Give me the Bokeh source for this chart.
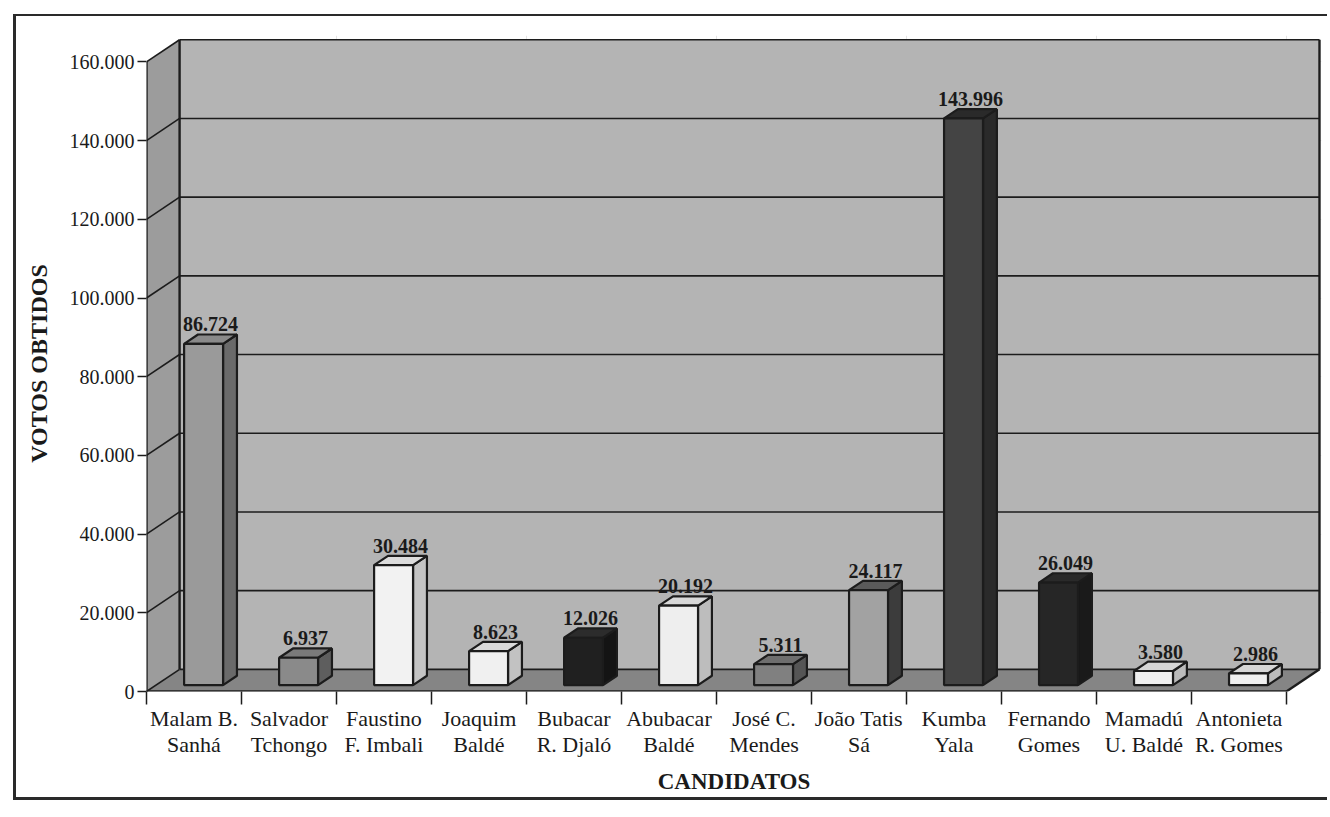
from bokeh.plotting import figure
from bokeh.models import Range1d, LinearAxis, FixedTicker, ColumnDataSource
from bokeh.core.properties import value
from bokeh.embed import file_html
from bokeh.resources import INLINE

# ---------------- data ----------------
candidates = ["Malam B.\nSanhá", "Salvador\nTchongo", "Faustino\nF. Imbali", "Joaquim\nBaldé",
              "Bubacar\nR. Djaló", "Abubacar\nBaldé", "José C.\nMendes", "João Tatis\nSá",
              "Kumba\nYala", "Fernando\nGomes", "Mamadú\nU. Baldé", "Antonieta\nR. Gomes"]
votes = [86724, 6937, 30484, 8623, 12026, 20192, 5311, 24117, 143996, 26049, 3580, 2986]
value_labels = ["86.724", "6.937", "30.484", "8.623", "12.026", "20.192", "5.311", "24.117",
                "143.996", "26.049", "3.580", "2.986"]
y_ticks = [0, 20000, 40000, 60000, 80000, 100000, 120000, 140000, 160000]
y_tick_labels = ["0", "20.000", "40.000", "60.000", "80.000", "100.000", "120.000", "140.000", "160.000"]
x_title = "CANDIDATOS"
y_title = "VOTOS OBTIDOS"

# ---------------- styles ----------------
front_colors = ["#9a9a9a", "#8a8a8a", "#f2f2f2", "#f0f0f0", "#202020", "#eeeeee",
                "#808080", "#a2a2a2", "#444444", "#262626", "#f0f0f0", "#f0f0f0"]
top_colors = ["#8a8a8a", "#7a7a7a", "#dcdcdc", "#dadada", "#2c2c2c", "#d8d8d8",
              "#6e6e6e", "#5a5a5a", "#2a2a2a", "#2a2a2a", "#d6d6d6", "#d6d6d6"]
side_colors = ["#6a6a6a", "#5e5e5e", "#c4c4c4", "#c2c2c2", "#141414", "#bdbdbd",
               "#555555", "#3c3c3c", "#2a2a2a", "#1a1a1a", "#bbbbbb", "#bbbbbb"]
EDGE = "#1c1c1c"
TXT = "#1a1a1a"
SERIF = "Liberation Serif"

W_PLOT, H_PLOT = 1314, 786
BL, BR, BT, BB = 130, 9, 19, 111     # min borders
N = len(votes)
PX_X = 94.75            # px per category
PX_Y = 20000 / 78.1     # value per px
FRAME_W = (W_PLOT - 3) - BL - BR
FRAME_H = (H_PLOT - 5) - BT - BB
X_END = FRAME_W / PX_X
Y_END = FRAME_H * PX_Y
DX, DY = 33 / PX_X, 22 * PX_Y   # depth of the 3D box
F, B, W = 0.29, 0.42, 0.41      # bar depth start, bar depth, bar width
YMAX = y_ticks[-1]

p = figure(width=W_PLOT, height=H_PLOT, x_range=Range1d(0, X_END), y_range=Range1d(0, Y_END),
           output_backend="svg", toolbar_location=None,
           x_axis_location=None, y_axis_location=None,
           min_border_left=BL, min_border_right=BR, min_border_top=BT, min_border_bottom=BB)
p.outline_line_color = None
p.background_fill_color = "white"
p.border_fill_color = "white"
p.styles = {"border-left": "3px solid #2a2a2a", "border-top": "2px solid #2a2a2a",
            "border-bottom": "3px solid #2a2a2a",
            "margin-left": "13px", "margin-top": "14px"}

# ---------------- 3D box ----------------
p.patch([DX, N + DX, N + DX, DX], [DY, DY, YMAX + DY, YMAX + DY], fill_color="#b4b4b4", line_color=None)
p.patch([0, DX, DX, 0], [0, DY, YMAX + DY, YMAX], fill_color="#9c9c9c", line_color=None)
p.patch([0, N, N + DX, DX], [0, 0, DY, DY], fill_color="#858585", line_color=None)

# gridlines on back wall and left wall
gx, gy = [], []
for t in y_ticks:
    gx.append([DX, N + DX]); gy.append([t + DY, t + DY])
    gx.append([0, DX]); gy.append([t, t + DY])
p.multi_line(gx, gy, line_color=EDGE, line_width=1.6)

# edges
ex = [[0, 0], [DX, DX], [N + DX, N + DX], [0, N], [N, N + DX]]
ey = [[0, YMAX], [DY, YMAX + DY], [DY, YMAX + DY], [0, 0], [0, DY]]
p.multi_line(ex, ey, line_color=EDGE, line_width=2.4)

# ---------------- bars ----------------
fx, fy, tx, ty, sx, sy, lx, ly = [], [], [], [], [], [], [], []
for i, v in enumerate(votes):
    cx = i + 0.5
    x0 = cx - W / 2 + F * DX
    x1 = cx + W / 2 + F * DX
    y0 = F * DY
    bx, by = B * DX, B * DY
    fx.append([x0, x1, x1, x0]); fy.append([y0, y0, y0 + v, y0 + v])
    tx.append([x0, x1, x1 + bx, x0 + bx]); ty.append([y0 + v, y0 + v, y0 + v + by, y0 + v + by])
    sx.append([x1, x1 + bx, x1 + bx, x1]); sy.append([y0, y0 + by, y0 + v + by, y0 + v])
    lx.append((x0 + x1 + bx) / 2); ly.append(y0 + v + by + 10 * PX_Y)

p.patches(sx, sy, fill_color=side_colors, line_color=EDGE, line_width=2.2)
p.patches(tx, ty, fill_color=top_colors, line_color=EDGE, line_width=2.2)
p.patches(fx, fy, fill_color=front_colors, line_color=EDGE, line_width=2.2)

src = ColumnDataSource(dict(x=lx, y=ly, t=value_labels))
p.text("x", "y", text="t", source=src, text_align="center", text_baseline="alphabetic",
       text_font=value(SERIF), text_font_style="bold", text_font_size="20px",
       text_color=TXT)

# ---------------- axes ----------------
yax = LinearAxis(ticker=FixedTicker(ticks=y_ticks),
                 major_label_overrides={t: s for t, s in zip(y_ticks, y_tick_labels)},
                 axis_label=y_title, axis_line_color=None,
                 major_tick_out=9, major_tick_in=0, major_tick_line_width=1.5,
                 major_tick_line_color=EDGE, minor_tick_line_color=None,
                 major_label_standoff=3, axis_label_standoff=15,
                 major_label_text_font=SERIF, major_label_text_font_size="20px",
                 major_label_text_color=TXT,
                 axis_label_text_font=SERIF, axis_label_text_font_style="bold",
                 axis_label_text_font_size="24px", axis_label_text_color=TXT)
p.add_layout(yax, "left")

xax_ticks = LinearAxis(ticker=FixedTicker(ticks=list(range(N + 1))),
                       major_label_text_font_size="0px", major_label_text_alpha=0,
                       axis_line_color=None, major_tick_out=13, major_tick_in=0,
                       major_tick_line_width=1.5, major_tick_line_color=EDGE,
                       minor_tick_line_color=None, major_label_standoff=3)
p.add_layout(xax_ticks, "below")

centers = [i + 0.5 for i in range(N)]
xax_lab = LinearAxis(ticker=FixedTicker(ticks=centers),
                     major_label_overrides={c: s for c, s in zip(centers, candidates)},
                     axis_line_color=None, major_tick_line_color=None,
                     major_tick_out=0, major_tick_in=0, minor_tick_line_color=None,
                     major_label_standoff=1,
                     major_label_text_font=SERIF, major_label_text_font_size="22px",
                     major_label_text_line_height=1.05, major_label_text_color=TXT,
                     axis_label=x_title, axis_label_standoff=9,
                     axis_label_text_font=SERIF, axis_label_text_font_style="bold",
                     axis_label_text_font_size="23px", axis_label_text_color=TXT)
p.add_layout(xax_lab, "below")

open("out.html", "w").write(file_html(p, INLINE))
